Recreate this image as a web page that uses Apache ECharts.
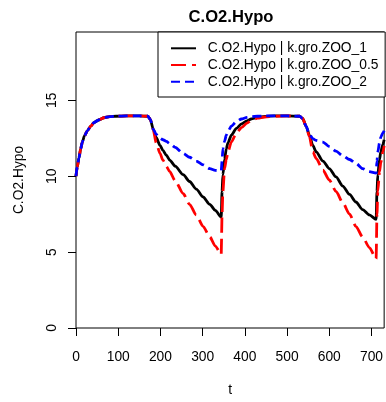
<!DOCTYPE html>
<html>
<head>
<meta charset="utf-8">
<script src="https://cdn.jsdelivr.net/npm/echarts@6/dist/echarts.min.js"></script>
<style>
html,body{margin:0;padding:0;background:#fff;}
#chart{width:386px;height:402px;}
</style>
</head>
<body>
<div id="chart"></div>
<script>
const titleText = 'C.O2.Hypo';
const xName = 't';
const yName = 'C.O2.Hypo';
const seriesNames = ['C.O2.Hypo | k.gro.ZOO_1', 'C.O2.Hypo | k.gro.ZOO_0.5', 'C.O2.Hypo | k.gro.ZOO_2'];
const xTicks = [0, 100, 200, 300, 400, 500, 600, 700];
const yTicks = [0, 5, 10, 15];

const t = [0, 3, 7, 11, 15, 20, 27, 35, 43, 55, 66, 80, 95, 120, 150, 170, 176, 183, 190, 199, 206, 214, 222, 235, 254, 269, 285, 301, 317, 330, 344, 346, 348, 352, 356, 360, 368, 380, 392, 405, 415, 430, 447, 470, 500, 530, 537, 545, 553, 561, 569, 585, 600, 616, 632, 648, 663, 679, 695, 711, 713, 715, 719, 722, 727, 730];

const zoo1 = [10.0, 10.6, 11.2, 11.8, 12.25, 12.65, 13.0, 13.3, 13.55, 13.72, 13.85, 13.92, 13.95, 13.97, 13.97, 13.95, 13.75, 13.1, 12.55, 12.03, 11.7, 11.38, 11.06, 10.66, 10.1, 9.65, 9.15, 8.63, 8.14, 7.75, 7.3, 9.0, 10.1, 11.1, 11.8, 12.2, 12.7, 13.15, 13.45, 13.65, 13.77, 13.87, 13.94, 13.97, 13.97, 13.95, 13.8, 13.3, 12.7, 12.03, 11.6, 11.0, 10.5, 9.95, 9.35, 8.8, 8.3, 7.8, 7.45, 7.16, 9.0, 10.1, 11.1, 11.6, 12.1, 12.4];

const zoo05 = [10.0, 10.6, 11.2, 11.8, 12.25, 12.65, 13.0, 13.3, 13.55, 13.72, 13.85, 13.92, 13.95, 13.97, 13.97, 13.95, 13.75, 13.05, 12.2, 11.5, 11.05, 10.65, 10.3, 9.7, 8.85, 8.15, 7.45, 6.7, 6.0, 5.4, 4.85, 7.5, 9.0, 10.5, 11.1, 11.6, 12.25, 12.85, 13.2, 13.5, 13.67, 13.82, 13.9, 13.95, 13.97, 13.95, 13.8, 13.3, 12.6, 11.6, 11.17, 10.4, 9.75, 9.0, 8.25, 7.5, 6.7, 6.0, 5.3, 4.56, 7.5, 9.0, 10.3, 10.9, 11.6, 12.0];

const zoo2 = [10.0, 10.6, 11.2, 11.8, 12.25, 12.65, 13.0, 13.3, 13.55, 13.72, 13.85, 13.92, 13.95, 13.97, 13.97, 13.95, 13.75, 13.1, 12.75, 12.5, 12.4, 12.3, 12.15, 11.9, 11.5, 11.25, 11.0, 10.75, 10.5, 10.38, 10.35, 11.0, 11.8, 12.3, 12.7, 12.95, 13.3, 13.6, 13.77, 13.87, 13.92, 13.95, 13.97, 13.97, 13.97, 13.95, 13.8, 13.3, 12.75, 12.47, 12.36, 12.25, 11.95, 11.65, 11.35, 11.1, 10.85, 10.5, 10.3, 10.2, 11.0, 11.6, 12.2, 12.57, 12.85, 13.0];

const colors = ['#000000', '#ff0000', '#0000ff'];
const dashes = ['solid', [15, 6], [9, 5]];
const values = [zoo1, zoo05, zoo2];

const FONT = 'Liberation Sans, Arial, sans-serif';
const chart = echarts.init(document.getElementById('chart'), null, {renderer: 'canvas'});

const series = values.map((v, i) => ({
  name: seriesNames[i],
  type: 'line',
  data: t.map((x, j) => [x, v[j]]),
  symbol: 'none',
  smooth: 0.25,
  smoothMonotone: 'x',
  lineStyle: {color: colors[i], width: 2.8, type: dashes[i], cap: 'butt'},
  itemStyle: {color: colors[i]},
  animation: false,
  z: 3 + i
}));

chart.setOption({
  animation: false,
  backgroundColor: '#ffffff',
  title: {
    text: titleText,
    left: 231,
    textAlign: 'center',
    top: 9,
    padding: 0,
    textStyle: {fontFamily: FONT, fontWeight: 'bold', fontSize: 16.6, color: '#000'}
  },
  legend: {
    orient: 'vertical',
    left: 158,
    top: 32,
    padding: [9.3, 6.7, 8.3, 12],
    itemWidth: 25,
    itemHeight: 14,
    itemGap: 2.7,
    borderColor: '#000',
    borderWidth: 1,
    borderRadius: 0,
    backgroundColor: '#fff',
    itemStyle: {opacity: 0},
    data: seriesNames,
    textStyle: {fontFamily: FONT, fontSize: 13.8, color: '#000', padding: [0, 0, 0, 6.7]}
  },
  grid: {
    left: 76, right: 1, top: 32, bottom: 70,
    show: true, borderColor: '#000', borderWidth: 1, backgroundColor: 'transparent'
  },
  xAxis: {
    type: 'value',
    min: 0, max: 730,
    name: xName,
    nameLocation: 'middle',
    nameGap: 55,
    nameTextStyle: {fontFamily: FONT, fontSize: 13.8, color: '#000'},
    axisLine: {show: false},
    axisTick: {show: true, length: 8, inside: false, customValues: xTicks, lineStyle: {color: '#000'}},
    axisLabel: {customValues: xTicks, margin: 22, fontFamily: FONT, fontSize: 13.8, color: '#000'},
    splitLine: {show: false}
  },
  yAxis: {
    type: 'value',
    min: 0, max: 19.5,
    axisLine: {show: false},
    axisTick: {show: true, length: 8, inside: false, customValues: yTicks, lineStyle: {color: '#000'}},
    axisLabel: {show: false},
    splitLine: {show: false}
  },
  series: series
});

// y tick labels and y title, rotated like R (las = 0), placed through the y axis scale
const x0 = chart.convertToPixel({gridIndex: 0}, [0, 0])[0];
const yMid = (chart.convertToPixel({yAxisIndex: 0}, 0) + chart.convertToPixel({yAxisIndex: 0}, 19.5)) / 2;
const graphics = yTicks.map(v => ({
  type: 'text',
  x: x0 - 24,
  y: chart.convertToPixel({yAxisIndex: 0}, v),
  rotation: Math.PI / 2,
  silent: true,
  style: {text: String(v), font: '13.8px ' + FONT, fill: '#000', align: 'center', verticalAlign: 'middle'}
}));
graphics.push({
  type: 'text',
  x: 19,
  y: yMid,
  rotation: Math.PI / 2,
  silent: true,
  style: {text: yName, font: '13.8px ' + FONT, fill: '#000', align: 'center', verticalAlign: 'middle'}
});
chart.setOption({graphic: graphics});
</script>
</body>
</html>
